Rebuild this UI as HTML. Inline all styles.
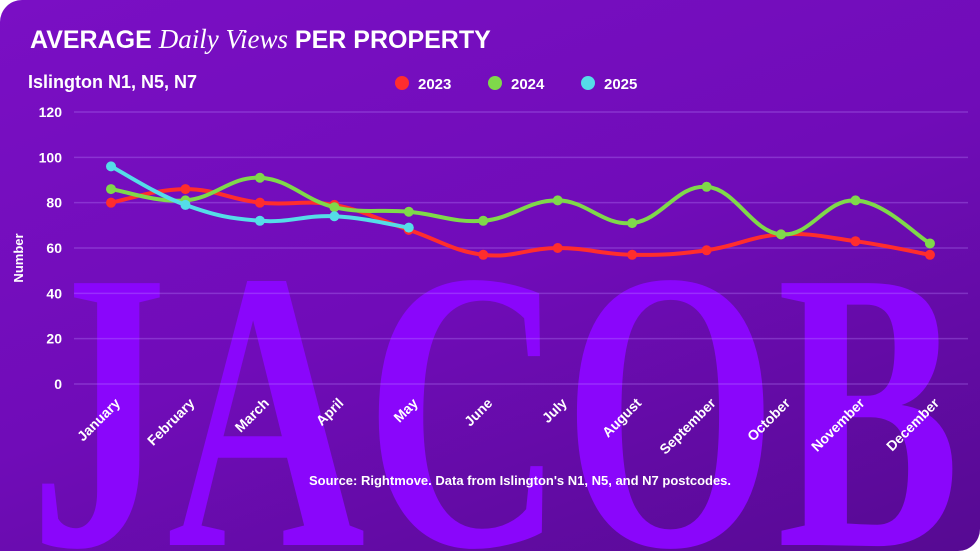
<!DOCTYPE html>
<html><head><meta charset="utf-8"><style>
body{margin:0;background:#fff;overflow:hidden}
#c{width:980px;height:551px;position:relative;overflow:hidden;border-radius:22px 0 22px 0;background:linear-gradient(160deg,#7a0fc4 0%,#700cb8 50%,#560a92 100%)}
svg{position:absolute;left:0;top:0;overflow:hidden}
text{font-family:"Liberation Sans",sans-serif;fill:#fff}
</style></head><body>
<div id="c">
<svg width="980" height="551" id="s">
<text x="30" y="545" textLength="930" lengthAdjust="spacingAndGlyphs" style="font-family:'Liberation Serif',serif;font-weight:bold;font-size:400px;fill:#8a06fb">JACOB</text>
<text x="30" y="48" style="font-size:25px;font-weight:bold">AVERAGE <tspan style="font-family:'Liberation Serif',serif;font-style:italic;font-weight:normal;font-size:27px">Daily Views</tspan> PER PROPERTY</text>
<text x="28" y="88" style="font-size:18px;font-weight:bold">Islington N1, N5, N7</text>
<g>
<circle cx="402" cy="83" r="7" fill="#ff2d2d"/><text x="418" y="89" style="font-size:15px;font-weight:bold">2023</text>
<circle cx="495" cy="83" r="7" fill="#7fd94a"/><text x="511" y="89" style="font-size:15px;font-weight:bold">2024</text>
<circle cx="588" cy="83" r="7" fill="#55dde8"/><text x="604" y="89" style="font-size:15px;font-weight:bold">2025</text>
</g>
<text transform="translate(23,258) rotate(-90)" text-anchor="middle" style="font-size:13px;font-weight:bold">Number</text>
<g id="g"></g>
<text x="520" y="485" text-anchor="middle" style="font-size:13px;font-weight:bold">Source: Rightmove. Data from Islington's N1, N5, and N7 postcodes.</text>
</svg>
</div>
<script>
const months=["January","February","March","April","May","June","July","August","September","October","November","December"];
const yTicks=[0,20,40,60,80,100,120];
const s2023=[80,86,80,79,68,57,60,57,59,66,63,57];
const s2024=[86,81,91,78,76,72,81,71,87,66,81,62];
const s2025=[96,79,72,74,69];
const NS="http://www.w3.org/2000/svg";
const g=document.getElementById('g');
const x=i=>111+i*74.45;
const y=v=>384-v*(272/120);
function mk(t,a){const e=document.createElementNS(NS,t);for(const k in a)e.setAttribute(k,a[k]);g.appendChild(e);return e;}
yTicks.forEach(v=>{
 const l=mk('line',{x1:74,x2:968,y1:y(v),y2:y(v),stroke:'rgba(190,140,255,0.3)','stroke-width':1.5});
 
 
 const t=mk('text',{x:62,y:y(v)+5,'text-anchor':'end',style:'font-size:14px;font-weight:bold'});
 t.textContent=v;
 
 
});
months.forEach((m,i)=>{
 const t=mk('text',{transform:`translate(${x(i)+10},${404}) rotate(-45)`,'text-anchor':'end',style:'font-size:14px;font-weight:bold'});
 t.textContent=m;
 
 
});
function path(vals){
 const p=vals.map((v,i)=>[x(i),y(v)]);
 let d=`M${p[0][0]},${p[0][1]}`;
 for(let i=0;i<p.length-1;i++){
  const p0=p[i-1]||p[i],p1=p[i],p2=p[i+1],p3=p[i+2]||p2,k=0.2;
  d+=` C${p1[0]+(p2[0]-p0[0])*k},${p1[1]+(p2[1]-p0[1])*k} ${p2[0]-(p3[0]-p1[0])*k},${p2[1]-(p3[1]-p1[1])*k} ${p2[0]},${p2[1]}`;
 }
 return d;
}
function series(vals,col,name){
 const l=mk('path',{d:path(vals),fill:'none',stroke:col,'stroke-width':4});
 
 
 vals.forEach((v,i)=>{
  const c=mk('circle',{cx:x(i),cy:y(v),r:5,fill:col});
  
  
 });
}
series(s2023,'#ff2d2d','series-2023');
series(s2024,'#7fd94a','series-2024');
series(s2025,'#55dde8','series-2025');
</script>
</body></html>
